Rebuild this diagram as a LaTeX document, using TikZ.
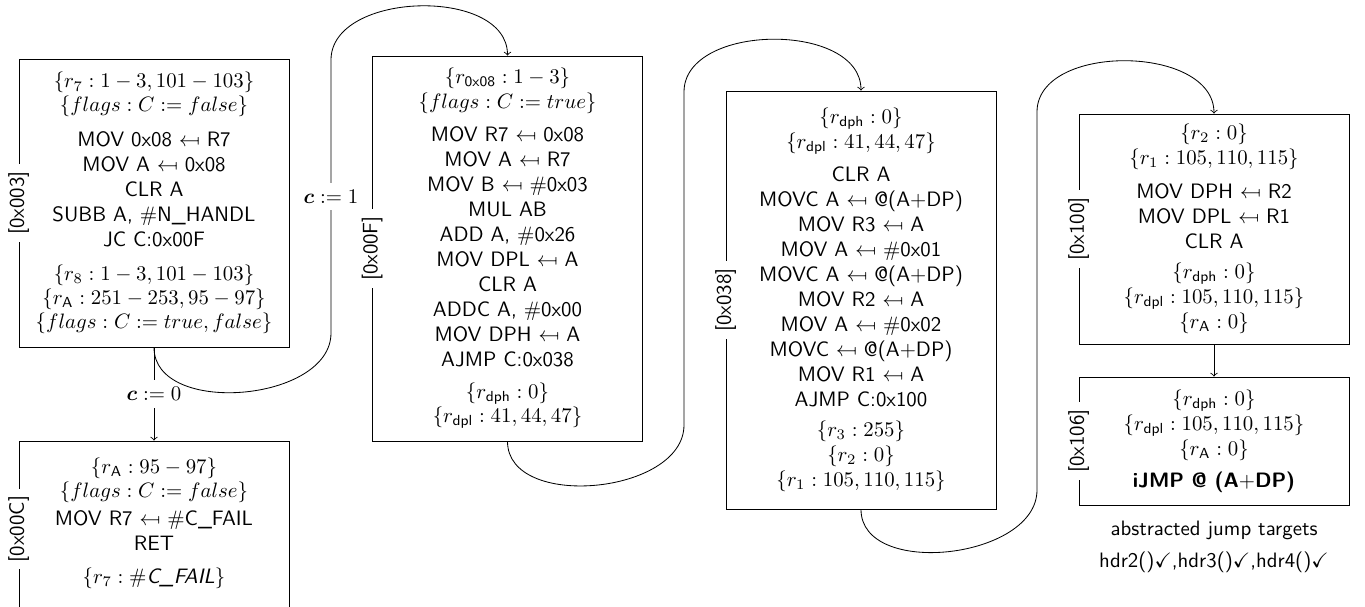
\documentclass[tikz,border=0pt]{standalone}
\usepackage{amssymb}
\usepackage{amsmath}
\usepackage{bm}
\usepackage{graphicx}
\newcommand{\mfrom}{\mathrel{\reflectbox{$\mapsto$}}}
\newcommand{\rs}[1]{r_{\mathsf{#1}}}
\tikzset{
  blk/.style={draw, align=center, font=\sffamily, minimum width=129.6pt},
  addr/.style={rotate=90, fill=white, font=\sffamily},
  cond/.style={fill=white},
  note/.style={align=center, font=\sffamily},
}
\begin{document}
\begin{tikzpicture}[x=0.48pt, y=-0.48pt, >=to]
\useasboundingbox (0,0) rectangle (1365,607);
\clip (0,0) rectangle (1365,607);

\node[blk, minimum height=138.24pt] (b1) at (154,203) {%
$\{r_7: 1-3, 101-103\}$\\[-0.5pt]
$\{flags: C := false\}$\\[4.5pt]
MOV 0x08 $\mfrom$ R7\\
MOV A $\mfrom$ 0x08\\
CLR A\\
SUBB A, $\#$N\_HANDL\\
JC C:0x00F\\[4.5pt]
$\{r_8: 1-3, 101-103\}$\\[-0.5pt]
$\{\rs{A}: 251-253, 95-97\}$\\[-0.5pt]
$\{flags: C := true, false\}$};

\node[blk, minimum height=84.5pt] (b0C) at (154,529) {%
$\{\rs{A}: 95-97\}$\\[-0.5pt]
$\{flags: C := false\}$\\[1.5pt]
MOV R7 $\mfrom$ $\#$C\_FAIL\\
RET\\[3.5pt]
$\{r_7: \#\textsf{\itshape C\_FAIL}\}$\\[-4pt]\mbox{}};

\node[blk, minimum height=184.8pt] (b2) at (507.5,248.5) {%
$\{\rs{0x08}: 1-3\}$\\
$\{flags: C := true\}$\\[3.8pt]
MOV R7 $\mfrom$ 0x08\\
MOV A $\mfrom$ R7\\
MOV B $\mfrom$ $\#$0x03\\
MUL AB\\
ADD A, $\#$0x26\\
MOV DPL $\mfrom$ A\\
CLR A\\
ADDC A, $\#$0x00\\
MOV DPH $\mfrom$ A\\
AJMP C:0x038\\[3.4pt]
$\{\rs{dph}: 0\}$\\[-0.5pt]
$\{\rs{dpl}: 41, 44, 47\}$};

\node[blk, minimum height=200.64pt] (b3) at (861,300) {%
$\{\rs{dph}: 0\}$\\
$\{\rs{dpl}: 41, 44, 47\}$\\[3.8pt]
CLR A\\
MOVC A $\mfrom$ @(A$+$DP)\\
MOV R3 $\mfrom$ A\\
MOV A $\mfrom$ $\#$0x01\\
MOVC A $\mfrom$ @(A$+$DP)\\
MOV R2 $\mfrom$ A\\
MOV A $\mfrom$ $\#$0x02\\
MOVC $\mfrom$ @(A$+$DP)\\
MOV R1 $\mfrom$ A\\
AJMP C:0x100\\[2.5pt]
$\{r_3: 255\}$\\
$\{r_2: 0\}$\\
$\{r_1: 105, 110, 115\}$};

\node[blk, minimum height=110.4pt] (b4) at (1214,229) {%
$\{r_2: 0\}$\\
$\{r_1: 105, 110, 115\}$\\[4.2pt]
MOV DPH $\mfrom$ R2\\
MOV DPL $\mfrom$ R1\\
CLR A\\[2.5pt]
$\{\rs{dph}: 0\}$\\
$\{\rs{dpl}: 105, 110, 115\}$\\
$\{\rs{A}: 0\}$};

\node[blk, minimum height=61.44pt] (b5) at (1214,441) {%
$\{\rs{dph}: 0\}$\\
$\{\rs{dpl}: 105, 110, 115\}$\\
$\{\rs{A}: 0\}$\\[3.4pt]
\textbf{iJMP @ (A$+$DP)}};

\node[note] (tgt) at (1214,547) {abstracted jump targets\\[3.4pt]
hdr2()$\checkmark$,hdr3()$\checkmark$,hdr4()$\checkmark$};

\node[addr] (l1) at (b1.west) {[0x003]};
\node[addr] (l0C) at (b0C.west) {[0x00C]};
\node[addr] (l2) at (b2.west) {[0x00F]};
\node[addr] (l3) at (b3.west) {[0x038]};
\node[addr] (l4) at (b4.west) {[0x100]};
\node[addr] (l5) at (b5.west) {[0x106]};

\coordinate (k1a) at (331,333);
\coordinate (k1b) at (331,60);
\coordinate (k2a) at (684,425);
\coordinate (k2b) at (684,92);
\coordinate (k3a) at (1037,490);
\coordinate (k3b) at (1037,112);

\draw[->] (b1.south) -- node[cond] {$\bm{c} := 0$} (b0C.north);
\draw[->] (b1.south) to[out=-90,in=-90] (k1a) -- node[cond] {$\bm{c} := 1$} (k1b) to[out=90,in=90] (b2.north);
\draw[->] (b2.south) to[out=-90,in=-90] (k2a) -- (k2b) to[out=90,in=90] (b3.north);
\draw[->] (b3.south) to[out=-90,in=-90] (k3a) -- (k3b) to[out=90,in=90] (b4.north);
\draw[->] (b4.south) -- (b5.north);
\end{tikzpicture}
\end{document}
